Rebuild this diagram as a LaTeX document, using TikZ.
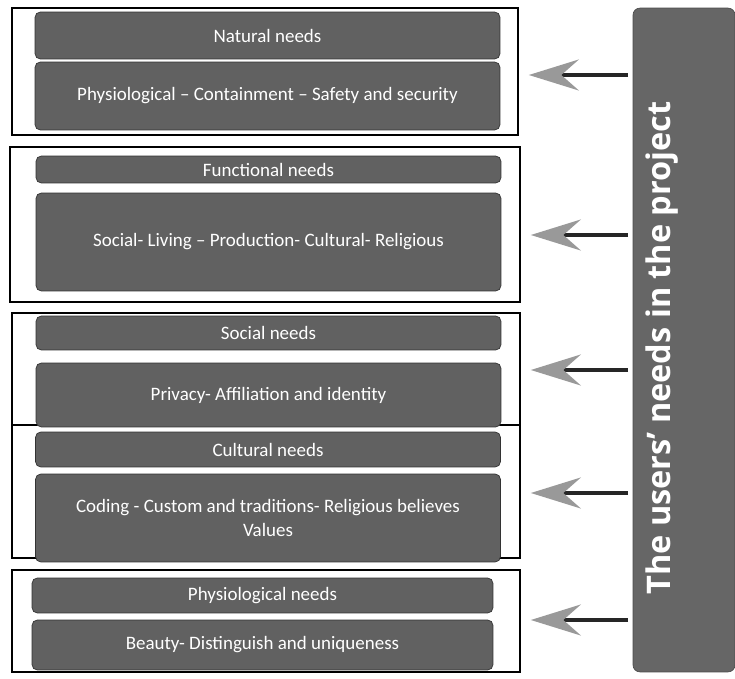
\documentclass[tikz,border=0pt]{standalone}
\usepackage{fontspec}
\setmainfont{Carlito}
\newfontfamily\userfont{Open Sans}
\usetikzlibrary{arrows.meta,positioning}
\tikzset{group frame/.style={rectangle,draw=black,line width=1pt,fill=white,inner sep=0pt},
         need box/.style={rectangle,rounded corners=3pt,draw=black!80,fill=black!62,text=white,
                          inner sep=0pt,minimum width=9.3cm,align=center,font=\fontsize{10.8}{13.5}\selectfont},
         users box/.style={rectangle,rounded corners=4pt,fill=black!60,draw=black!70,inner sep=0pt},
         need arrow/.style={-{Stealth[length=1cm,width=0.62cm,inset=0.35cm,color=black!40]},
                            line width=2pt,black!85,shorten >=0.2cm},
}
\begin{document}
\begin{tikzpicture}[x=0.02cm,y=-0.02cm]
\useasboundingbox (0,0) rectangle (735,679);
% frames round each group of needs
\node[group frame,minimum width=10.12cm,minimum height=2.54cm] (g1) at (265,71.5) {};
\node[group frame,minimum width=10.2cm,minimum height=3.1cm] (g2) at (265,224.5) {};
\node[group frame,minimum width=10.16cm,minimum height=2.24cm] (g3) at (266,369) {};
\node[group frame,minimum width=10.16cm,minimum height=2.66cm] (g4) at (266,491.5) {};
\node[group frame,minimum width=10.16cm,minimum height=2.04cm] (g5) at (266,621) {};
% titles and contents
\node[need box,minimum height=0.94cm] (n1) at (267.5,35.5) {Natural needs};
\node[need box,minimum height=1.36cm] (c1) at (267.5,96) {Physiological -- Containment -- Safety and security};
\node[need box,minimum height=0.54cm] (n2) at (268.5,169.5) {Functional needs};
\node[need box,minimum height=1.96cm] (c2) at (268.5,242) {Social- Living -- Production- Cultural- Religious};
\node[need box,minimum height=0.68cm] (n3) at (268.5,333) {Social needs};
\node[need box,minimum height=1.28cm] (c3) at (268.5,395) {Privacy- Affiliation and identity};
\node[need box,minimum height=0.7cm] (n4) at (268,449.5) {Cultural needs};
\node[need box,minimum height=1.76cm] (c4) at (268,518) {Coding - Custom and traditions- Religious believes\\Values};
\node[need box,minimum height=0.7cm,minimum width=9.22cm] (n5) at (262.5,595.5) {Physiological needs};
\node[need box,minimum height=1.0cm,minimum width=9.22cm] (c5) at (262.5,645) {Beauty- Distinguish and uniqueness};
% the users
\node[users box,minimum width=2.04cm,minimum height=13.28cm] (users) at (684,340) {};
\node[rotate=90,text=white,font=\userfont\bfseries\fontsize{18.5}{22}\selectfont] (userstext) at (662,348)
    {The users’ needs in the project};
\coordinate (a1) at (628,75);
\coordinate (a2) at (628,235);
\coordinate (a3) at (628,370);
\coordinate (a4) at (628,493);
\coordinate (a5) at (628,620);
\foreach \i in {1,...,5}
    \draw[need arrow] (a\i) -- (g\i.east |- a\i);
\end{tikzpicture}
\end{document}
